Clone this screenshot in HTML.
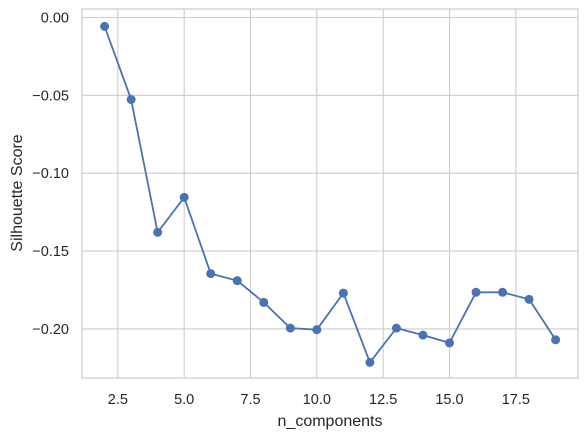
<!DOCTYPE html>
<html><head><meta charset="utf-8"><style>
body{margin:0;background:#fff;}
svg text{font-family:"Liberation Sans","DejaVu Sans",sans-serif;fill:#262626;}
</style></head><body>
<svg id="chart" width="588" height="437">
<rect x="0" y="0" width="588" height="437" fill="#fff"/>
<g id="grid"></g>
<rect x="82" y="9" width="496" height="369" fill="none" stroke="#cccccc" stroke-width="1.25"/>
<g id="ticks"></g>
<g id="series"></g>
<text x="330" y="426" font-size="16" text-anchor="middle">n_components</text>
<text x="0" y="0" font-size="16" text-anchor="middle" transform="translate(22,193) rotate(-90)">Silhouette Score</text>
</svg>
<script>
const nComponents=[2,3,4,5,6,7,8,9,10,11,12,13,14,15,16,17,18,19];
const scores=[-0.0057,-0.0527,-0.138,-0.1155,-0.1645,-0.169,-0.183,-0.1995,-0.2005,-0.177,-0.2215,-0.1995,-0.204,-0.209,-0.1765,-0.1765,-0.181,-0.207];
const xTicks=[2.5,5.0,7.5,10.0,12.5,15.0,17.5];
const yTicks=[0.00,-0.05,-0.10,-0.15,-0.20];
const yTickLabels=["0.00","\u22120.05","\u22120.10","\u22120.15","\u22120.20"];
const NS="http://www.w3.org/2000/svg";
function X(v){return 104.6+(v-2)*26.53;}
function Y(v){return 17.5-v*1557;}
const grid=document.getElementById('grid'),ticks=document.getElementById('ticks'),ser=document.getElementById('series');
function mk(tag,attrs,parent){const e=document.createElementNS(NS,tag);for(const k in attrs)e.setAttribute(k,attrs[k]);parent.appendChild(e);return e;}
xTicks.forEach(t=>{
  const l=mk('line',{x1:X(t),x2:X(t),y1:9,y2:378,stroke:'#cccccc','stroke-width':1.1},grid);
  
  
  const tx=mk('text',{x:X(t),y:404,'font-size':14.5,'text-anchor':'middle'},ticks);
  tx.textContent=t.toFixed(1);
  
  
});
yTicks.forEach((t,i)=>{
  const l=mk('line',{x1:82,x2:578,y1:Y(t),y2:Y(t),stroke:'#cccccc','stroke-width':1.1},grid);
  
  
  const tx=mk('text',{x:69,y:Y(t)+5,'font-size':14.5,'text-anchor':'end'},ticks);
  tx.textContent=yTickLabels[i];
  
  
});
const pts=nComponents.map((n,i)=>X(n)+','+Y(scores[i])).join(' ');
const pl=mk('polyline',{points:pts,fill:'none',stroke:'#4c72b0','stroke-width':1.8},ser);


nComponents.forEach((n,i)=>{
  const c=mk('circle',{cx:X(n),cy:Y(scores[i]),r:4.5,fill:'#4c72b0'},ser);
  
  
});
</script>
</body></html>
